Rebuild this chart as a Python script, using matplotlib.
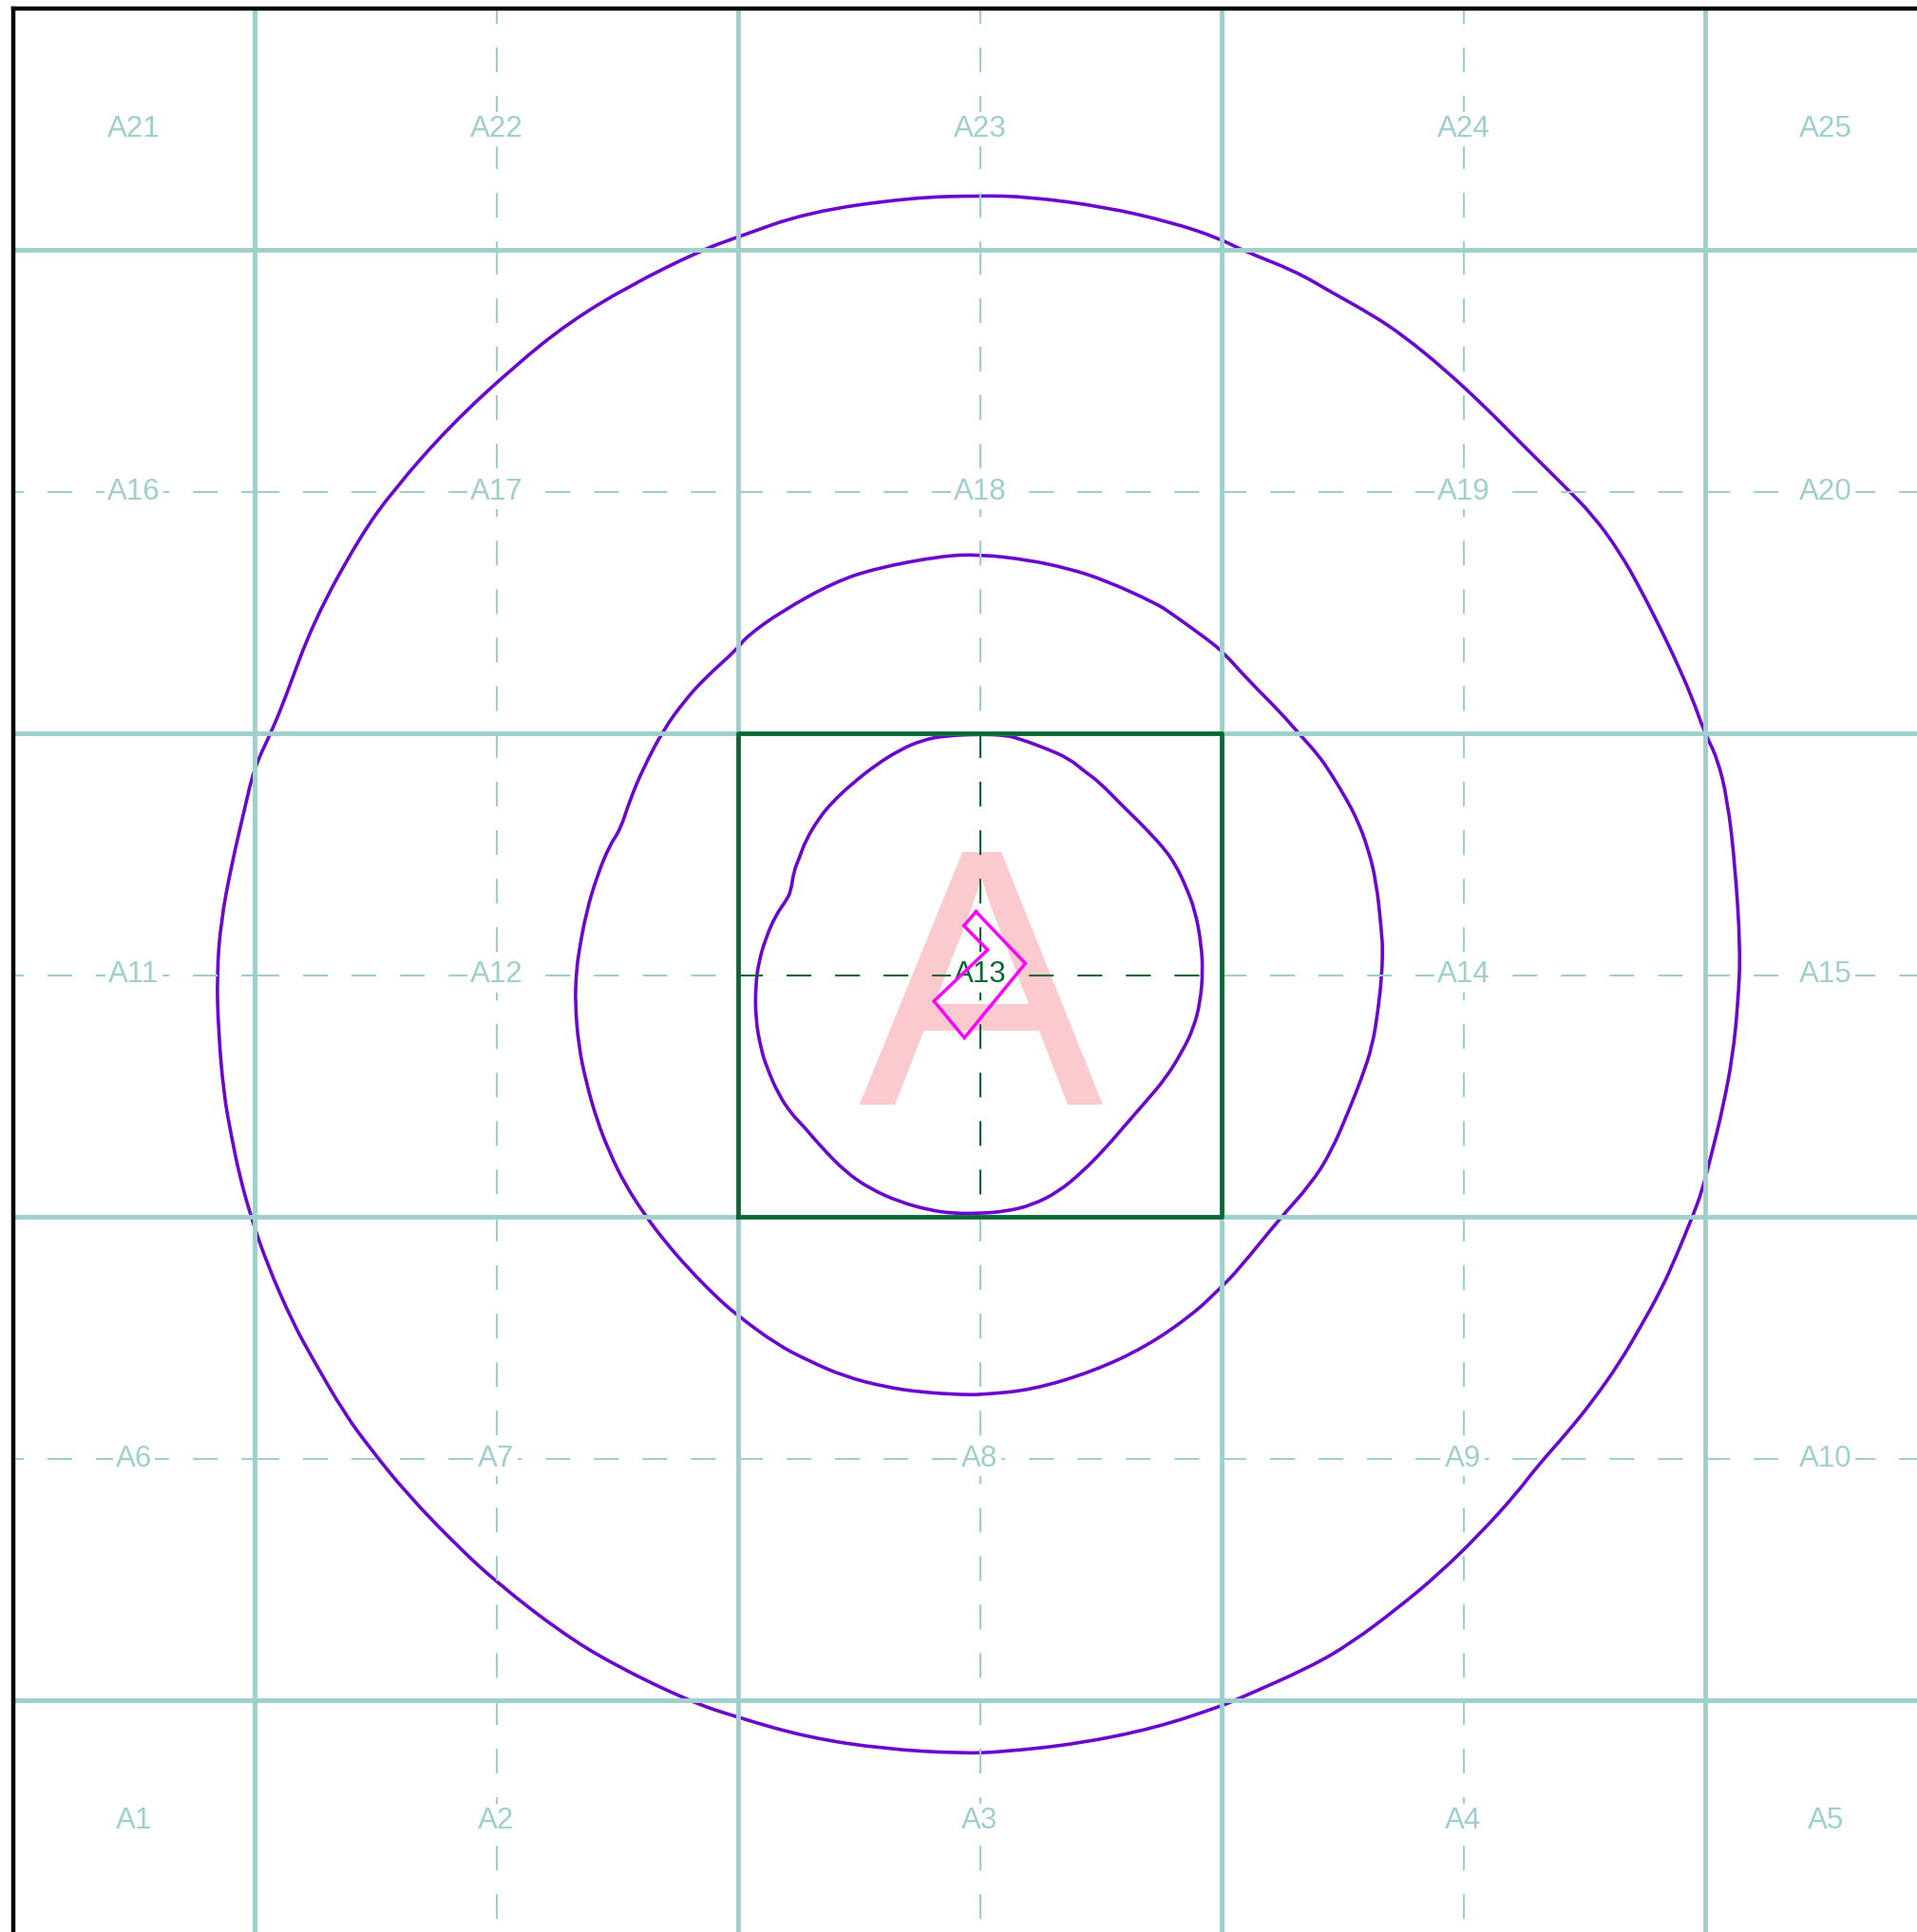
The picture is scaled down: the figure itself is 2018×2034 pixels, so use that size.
import matplotlib
matplotlib.use("Agg")
import matplotlib.pyplot as plt
from matplotlib.path import Path
from matplotlib.patches import PathPatch
import numpy as np

plt.rcParams['font.family'] = ['Liberation Sans', 'DejaVu Sans']

# 5 x 5 grid of cells, A1 bottom-left ... A25 top-right
n_rows = 5
n_cols = 5
cell_ids = ["A%d" % i for i in range(1, n_rows * n_cols + 1)]
focus_cell = "A13"
big_letter = "A"
view = (0.5, 4.5)  # visible range in cell units (both axes)

# rings around the focus cell, offsets from its centre in cell units
outer_dx = [0.0, -0.143, -0.356, -0.505, -0.579, -0.728, -0.851, -0.963, -1.096, -1.213,
            -1.282, -1.378, -1.437, -1.463, -1.501, -1.522, -1.548, -1.570, -1.578,
            -1.575, -1.564, -1.548, -1.532, -1.508, -1.474, -1.421, -1.378, -1.314, -1.261,
            -1.186, -1.080, -0.995, -0.867, -0.760, -0.601, -0.503, -0.356, -0.196, -0.036,
            0.045, 0.204, 0.364, 0.497, 0.535, 0.684, 0.769, 0.865, 0.950, 1.035,
            1.110, 1.152, 1.216, 1.269, 1.323, 1.365, 1.408, 1.440, 1.472, 1.493,
            1.514, 1.536, 1.557, 1.568, 1.573,
            1.562, 1.546, 1.525, 1.498, 1.472, 1.434, 1.408, 1.365, 1.323, 1.269,
            1.206, 1.120, 1.046, 0.961, 0.875, 0.812, 0.726, 0.652, 0.545, 0.492,
            0.396, 0.258, 0.098, 0.0]
outer_dy = [1.612, 1.608, 1.578, 1.525, 1.498, 1.424, 1.349, 1.259, 1.136, 1.003,
            0.907, 0.732, 0.572, 0.508, 0.428, 0.338, 0.226, 0.109, 0.0,
            -0.113, -0.245, -0.333, -0.411, -0.499, -0.598, -0.719, -0.797, -0.907, -0.979,
            -1.072, -1.182, -1.260, -1.359, -1.425, -1.502, -1.535, -1.577, -1.601, -1.610,
            -1.607, -1.590, -1.557, -1.513, -1.497, -1.431, -1.381, -1.309, -1.238, -1.155,
            -1.072, -1.017, -0.945, -0.879, -0.802, -0.730, -0.653, -0.582, -0.504, -0.449,
            -0.367, -0.278, -0.168, -0.058, 0.052,
            0.226, 0.364, 0.449, 0.503, 0.577, 0.662, 0.716, 0.801, 0.875, 0.950,
            1.014, 1.099, 1.174, 1.253, 1.323, 1.365, 1.413, 1.456, 1.498, 1.525,
            1.557, 1.589, 1.610, 1.612]

middle_dx = [0.0, -0.079, -0.217, -0.302, -0.409, -0.483, -0.503, -0.569, -0.611, -0.654,
             -0.696, -0.723, -0.744, -0.766, -0.792, -0.814, -0.830, -0.835,
             -0.837, -0.830, -0.814, -0.792, -0.766, -0.734, -0.691, -0.649, -0.601, -0.547,
             -0.503, -0.420, -0.356, -0.281, -0.196, -0.121, -0.036,
             0.002, 0.109, 0.236, 0.343, 0.439, 0.497, 0.535, 0.620, 0.684, 0.726,
             0.764, 0.790, 0.812, 0.824, 0.831, 0.833,
             0.831, 0.820, 0.801, 0.780, 0.758, 0.726, 0.700, 0.662, 0.620, 0.556,
             0.503, 0.471, 0.396, 0.364, 0.258, 0.183, 0.098, 0.0]
middle_dy = [0.870, 0.867, 0.841, 0.812, 0.753, 0.700, 0.673, 0.614, 0.567, 0.508,
             0.428, 0.364, 0.300, 0.268, 0.204, 0.130, 0.045, 0.0,
             -0.058, -0.146, -0.223, -0.300, -0.367, -0.433, -0.499, -0.554, -0.609, -0.664,
             -0.703, -0.764, -0.797, -0.830, -0.852, -0.863, -0.868,
             -0.868, -0.858, -0.819, -0.769, -0.703, -0.648, -0.609, -0.504, -0.433, -0.367,
             -0.278, -0.212, -0.146, -0.069, -0.003, 0.052,
             0.087, 0.194, 0.268, 0.322, 0.364, 0.417, 0.455, 0.497, 0.545, 0.609,
             0.668, 0.694, 0.748, 0.769, 0.817, 0.841, 0.859, 0.870]

inner_dx = [0.0, -0.071, -0.119, -0.167, -0.216, -0.264, -0.305, -0.333, -0.360, -0.374,
            -0.385, -0.391, -0.402, -0.422, -0.443, -0.457, -0.464, -0.464, -0.453, -0.440,
            -0.416, -0.388, -0.367, -0.326, -0.278, -0.229, -0.167, -0.105, -0.057, 0.0,
            0.053, 0.108, 0.163, 0.212, 0.260, 0.301, 0.343, 0.384, 0.418, 0.442,
            0.456, 0.461, 0.458, 0.446, 0.425, 0.405, 0.384, 0.356, 0.329, 0.294,
            0.246, 0.218, 0.184, 0.136, 0.081, 0.053, 0.0]
inner_dy = [0.498, 0.495, 0.486, 0.465, 0.434, 0.396, 0.358, 0.324, 0.279, 0.241,
            0.214, 0.172, 0.152, 0.124, 0.076, 0.028, -0.021, -0.090, -0.152, -0.193,
            -0.248, -0.289, -0.310, -0.358, -0.407, -0.441, -0.469, -0.486, -0.493, -0.493,
            -0.489, -0.476, -0.448, -0.407, -0.358, -0.310, -0.262, -0.214, -0.159, -0.110,
            -0.055, 0.007, 0.062, 0.131, 0.186, 0.227, 0.258, 0.289, 0.317, 0.351,
            0.400, 0.420, 0.448, 0.469, 0.489, 0.496, 0.498]

marker_dx = [-0.008, 0.094, -0.032, -0.095, 0.016, -0.033, -0.008]
marker_dy = [0.131, 0.024, -0.130, -0.054, 0.052, 0.102, 0.131]

grid_color = "#9ecfcc"
focus_color = "#0b6636"
ring_color = "#6a06d0"
marker_color = "#ff00ff"
letter_color = "#fbcace"


def smooth_ring(x, y):
    # closed quadratic-bezier path with the read points as control points
    pts = np.column_stack([x, y])[:-1]
    mids = (pts + np.roll(pts, -1, axis=0)) / 2
    verts = [mids[-1]]
    codes = [Path.MOVETO]
    for p, m in zip(pts, mids):
        verts += [p, m]
        codes += [Path.CURVE3, Path.CURVE3]
    return Path(verts, codes)


fig = plt.figure(figsize=(20.18, 20.34), dpi=100)
# axes a bit larger than the figure: right and bottom edges fall off the canvas
ax = fig.add_axes([13.5 / 2018, -10.5 / 2034, 2036 / 2018, 2036 / 2034])
ax.set_xlim(*view)
ax.set_ylim(*view)
ax.set_xticks([])
ax.set_yticks([])
for side in ["right", "bottom"]:
    ax.spines[side].set_visible(False)
for side in ["left", "top"]:
    ax.spines[side].set_color("black")
    ax.spines[side].set_linewidth(3.2)
    ax.spines[side].set_zorder(10)

fx, fy = None, None
for k, name in enumerate(cell_ids):
    if name == focus_cell:
        row, col = divmod(k, n_cols)
        fx, fy = col + 0.5, row + 0.5

# big letter behind everything in the focus cell
ax.text(fx, fy - 0.268, big_letter, color=letter_color, fontsize=278,
        ha="center", va="baseline", zorder=1)

# rings sit under the grid
for dx, dy in [(outer_dx, outer_dy), (middle_dx, middle_dy), (inner_dx, inner_dy)]:
    path = smooth_ring(fx + np.array(dx), fy + np.array(dy))
    ax.add_patch(PathPatch(path, fc="none", ec=ring_color, lw=2.6, zorder=2))

# cell borders
for c in range(1, n_cols):
    ax.axvline(c, color=grid_color, lw=3.5, zorder=3)
for r in range(1, n_rows):
    ax.axhline(r, color=grid_color, lw=3.5, zorder=3)

dash = (0, (12.5, 12))
for k, name in enumerate(cell_ids):
    row, col = divmod(k, n_cols)
    cx, cy = col + 0.5, row + 0.5
    color = focus_color if name == focus_cell else grid_color
    ax.plot([cx - 0.5, cx + 0.5], [cy, cy], color=color, lw=1.5, ls=dash, zorder=4)
    ax.plot([cx, cx], [cy + 0.5, cy - 0.5], color=color, lw=1.5, ls=dash, zorder=4)
    # label in the middle of the visible part of the cell
    lx = (max(col, view[0]) + min(col + 1, view[1])) / 2
    ly = (max(row, view[0]) + min(row + 1, view[1])) / 2
    ax.text(lx, ly, name, color=color, fontsize=22.5, ha="center", va="center",
            zorder=5, bbox=dict(boxstyle="square,pad=0.1", fc="white", ec="none"))

# focus cell outline
ax.plot([fx - 0.5, fx + 0.5, fx + 0.5, fx - 0.5, fx - 0.5],
        [fy - 0.5, fy - 0.5, fy + 0.5, fy + 0.5, fy - 0.5],
        color=focus_color, lw=3.4, zorder=6)

ax.plot(fx + np.array(marker_dx), fy + np.array(marker_dy), color=marker_color,
        lw=2.5, zorder=7, solid_joinstyle="miter")

fig.savefig("out.png", dpi=100)
